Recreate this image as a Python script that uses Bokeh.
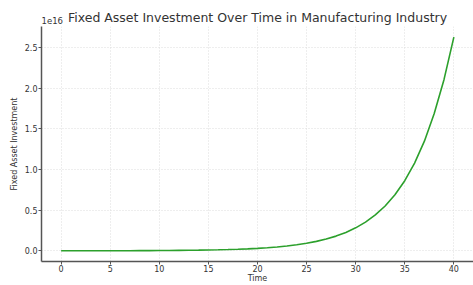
from bokeh.plotting import figure
from bokeh.layouts import column
from bokeh.models import Range1d, FixedTicker, CustomJSTickFormatter, Label
from bokeh.embed import file_html
from bokeh.resources import INLINE

# Data
time = list(range(0, 41))
investment = [
    3.5e12, 4.4e12, 5.5e12, 6.8e12, 8.5e12, 1.07e13, 1.34e13, 1.67e13, 2.09e13, 2.61e13,
    3.26e13, 4.07e13, 5.09e13, 6.37e13, 7.96e13, 9.95e13, 1.24e14, 1.55e14, 1.94e14, 2.43e14,
    3.04e14, 3.79e14, 4.74e14, 5.93e14, 7.41e14, 9.26e14, 1.16e15, 1.45e15, 1.81e15, 2.26e15,
    2.83e15, 3.53e15, 4.42e15, 5.52e15, 6.90e15, 8.63e15, 1.08e16, 1.35e16, 1.69e16, 2.11e16,
    2.63e16,
]
x_ticks = [0, 5, 10, 15, 20, 25, 30, 35, 40]
y_ticks = [0, 0.5e16, 1.0e16, 1.5e16, 2.0e16, 2.5e16]

title_text = "Fixed Asset Investment Over Time in Manufacturing Industry"
x_label = "Time"
y_label = "Fixed Asset Investment"
exp_label = "1e16"

FONT = "DejaVu Sans"
AXIS_COLOR = "#555555"
TEXT_COLOR = "#333333"

ymax = max(investment)
pad_y = 0.05 * ymax
y0, y1 = -pad_y, ymax + pad_y
x0, x1 = -2, 42
xr = Range1d(x0, x1)

# main plot
p = figure(
    width=473, height=259,
    x_range=xr, y_range=Range1d(y0, y1),
    output_backend="svg", toolbar_location=None,
    min_border_left=41, min_border_right=0, min_border_top=0, min_border_bottom=23,
)
p.outline_line_color = None
p.background_fill_color = "white"
p.border_fill_color = "white"

p.line(time, investment, line_color="#2ca02c", line_width=1.6)

p.xaxis.ticker = FixedTicker(ticks=x_ticks)
p.yaxis.ticker = FixedTicker(ticks=y_ticks)
p.yaxis.formatter = CustomJSTickFormatter(code="return (tick/1e16).toFixed(1);")
p.xaxis.axis_label = x_label
p.yaxis.axis_label = y_label

for ax in (p.xaxis, p.yaxis):
    ax.axis_line_color = AXIS_COLOR
    ax.axis_line_width = 1.5
    ax.major_tick_line_color = AXIS_COLOR
    ax.major_tick_out = 3
    ax.major_tick_in = 0
    ax.minor_tick_line_color = None
    ax.major_label_text_font = FONT
    ax.major_label_text_font_size = "8px"
    ax.major_label_text_color = TEXT_COLOR
    ax.major_label_standoff = 1
    ax.axis_label_text_font = FONT
    ax.axis_label_text_font_size = "8px"
    ax.axis_label_text_font_style = "normal"
    ax.axis_label_text_color = TEXT_COLOR

p.yaxis.major_label_orientation = "horizontal"
p.yaxis.axis_label_standoff = 3
p.xaxis.major_label_standoff = 0
p.xaxis.axis_label_standoff = -1

p.xgrid.ticker = FixedTicker(ticks=x_ticks)
p.ygrid.ticker = FixedTicker(ticks=y_ticks)
for g in (p.xgrid, p.ygrid):
    g.grid_line_color = "#dddddd"
    g.grid_line_dash = "1 2"
    g.grid_line_width = 1

# header strip holding the title and the axis exponent
h = figure(
    width=473, height=26,
    x_range=xr, y_range=Range1d(0, 1),
    x_axis_type=None, y_axis_type=None,
    output_backend="svg", toolbar_location=None,
    min_border_left=41, min_border_right=0, min_border_top=0, min_border_bottom=0,
)
h.outline_line_color = None
h.background_fill_color = "white"
h.border_fill_color = "white"
h.xgrid.visible = False
h.ygrid.visible = False

common = dict(text_font=FONT, text_color=TEXT_COLOR)
h.add_layout(Label(x=20, y=0, text=title_text, text_font_size="12.5px",
                   text_align="center", text_baseline="middle", y_offset=9, **common))
h.add_layout(Label(x=x0, y=0, text=exp_label, text_font_size="8.5px",
                   text_align="left", text_baseline="middle", y_offset=6, **common))

layout = column(h, p, spacing=0)
open("out.html", "w").write(file_html(layout, INLINE))
